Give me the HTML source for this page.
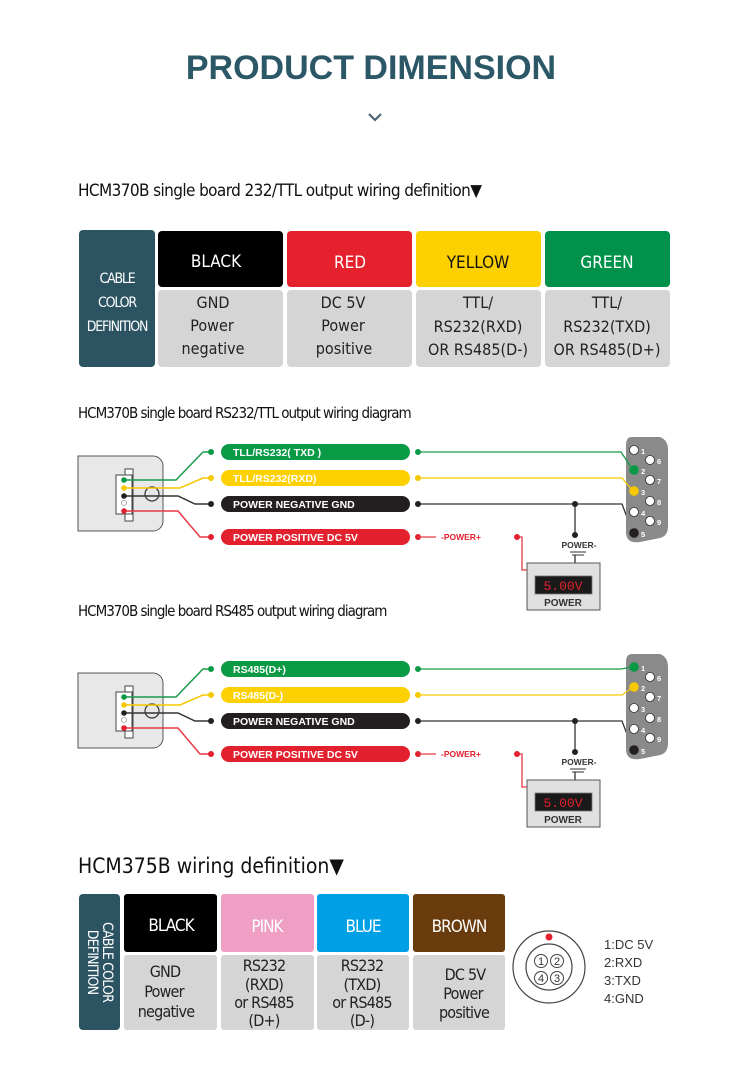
<!DOCTYPE html>
<html><head><meta charset="utf-8"><style>
html,body{margin:0;padding:0;background:#fff;}
svg{display:block}
.cd{font-family:"DejaVu Sans Condensed","DejaVu Sans","Liberation Sans",sans-serif;}
.lb{font-family:"Liberation Sans",sans-serif;font-weight:bold;}
</style></head><body>
<svg width="750" height="1071" viewBox="0 0 750 1071" xmlns="http://www.w3.org/2000/svg">
<defs>
<g id="diag">
  <path d="M78 456 H153 a10 10 0 0 1 10 10 V521 a10 10 0 0 1 -10 10 H78 Z" fill="#e8e8e8" stroke="#555" stroke-width="1"/>
  <rect x="125" y="469" width="8" height="52" fill="#fff" stroke="#444" stroke-width="1"/>
  <rect x="116" y="475" width="16" height="39" fill="#fff" stroke="#444" stroke-width="1"/>
  <circle cx="152" cy="494" r="7" fill="none" stroke="#333" stroke-width="1.2"/>
  <polyline points="124,480 176,480 203,452 211,452" fill="none" stroke="#1a9a4a" stroke-width="1.5"/>
  <polyline points="124,488 180,488 203,478 211,478" fill="none" stroke="#f5c800" stroke-width="1.5"/>
  <polyline points="124,496 178,496 195,504 211,504" fill="none" stroke="#333" stroke-width="1.5"/>
  <polyline points="124,511 178,511 200,537 211,537" fill="none" stroke="#e53a45" stroke-width="1.5"/>
  <circle cx="124" cy="480" r="2.8" fill="#0a9a46"/>
  <circle cx="124" cy="488" r="2.8" fill="#f5c800"/>
  <circle cx="124" cy="496" r="2.8" fill="#222"/>
  <circle cx="124" cy="503" r="2.5" fill="#fff" stroke="#999" stroke-width="0.8"/>
  <circle cx="124" cy="511" r="2.8" fill="#e3202e"/>
  <circle cx="211" cy="452" r="3" fill="#0a9a46"/>
  <circle cx="211" cy="478" r="3" fill="#f5c800"/>
  <circle cx="211" cy="504" r="3" fill="#222"/>
  <circle cx="211" cy="537" r="3" fill="#e3202e"/>
  <rect x="221" y="444" width="189" height="16" rx="8" fill="#0a9a46"/>
  <rect x="221" y="470" width="189" height="16" rx="8" fill="#fdd000"/>
  <rect x="221" y="496" width="189" height="16" rx="8" fill="#231f20"/>
  <rect x="221" y="529" width="189" height="16" rx="8" fill="#e3202e"/>
  <polyline points="418,504 622,504 633,533" fill="none" stroke="#333" stroke-width="1.3"/>
  <line x1="575" y1="504" x2="575" y2="535" stroke="#333" stroke-width="1.3"/>
  <circle cx="418" cy="504" r="3" fill="#222"/>
  <circle cx="575" cy="504" r="3" fill="#222"/>
  <circle cx="575" cy="535" r="3" fill="#222"/>
  <circle cx="418" cy="537" r="3" fill="#e3202e"/>
  <line x1="418" y1="537" x2="436" y2="537" stroke="#e53a45" stroke-width="1.3"/>
  <text x="441" y="540" class="lb" font-size="8.5" fill="#e3202e">-POWER+</text>
  <polyline points="517,537 522,537 522,570 533,570" fill="none" stroke="#e53a45" stroke-width="1.3"/>
  <circle cx="517" cy="537" r="3" fill="#e3202e"/>
  <circle cx="533" cy="570" r="3" fill="#e3202e"/>
  <text x="579" y="548" class="lb" font-size="8.5" fill="#333" text-anchor="middle">POWER-</text>
  <line x1="570" y1="552" x2="586" y2="552" stroke="#333" stroke-width="1"/>
  <line x1="572" y1="555" x2="584" y2="555" stroke="#333" stroke-width="1"/>
  <line x1="575" y1="555" x2="575" y2="570" stroke="#333" stroke-width="1.3"/>
  <circle cx="575" cy="570" r="3" fill="#222"/>
  <rect x="527" y="563" width="73" height="47" fill="#e0e0e0" stroke="#555" stroke-width="1"/>
  <rect x="535" y="576" width="57" height="18" fill="#1a1a1a" stroke="#777" stroke-width="0.8"/>
  <text x="563" y="590" font-family="Liberation Mono,monospace" font-size="13" fill="#e3202e" text-anchor="middle">5.00V</text>
  <text x="563" y="606" class="lb" font-size="10" fill="#333" text-anchor="middle">POWER</text>
  <path d="M632 437 H660 Q668 440 668 450 V526 Q668 536 660 538 L640 542 Q626 544 626 532 V445 Q626 437 632 437 Z" fill="#8a8a8a"/>
  <g fill="#fff" stroke="#333" stroke-width="0.8">
    <circle cx="650" cy="460" r="4.5"/><circle cx="650" cy="480" r="4.5"/><circle cx="650" cy="501" r="4.5"/><circle cx="650" cy="521" r="4.5"/>
    <circle cx="634" cy="512" r="4.5"/>
  </g>
  <circle cx="634" cy="533" r="4.8" fill="#231f20"/>
  <g class="lb" font-size="7.5" fill="#fff">
    <text x="641" y="516">4</text><text x="641" y="537">5</text>
    <text x="657" y="464">6</text><text x="657" y="484">7</text><text x="657" y="505">8</text><text x="657" y="525">9</text>
  </g>
</g>
</defs>

<text x="371" y="79" text-anchor="middle" class="lb" font-size="34" fill="#2b5766">PRODUCT DIMENSION</text>
<polyline points="369,114 375,120 381,114" fill="none" stroke="#4a6672" stroke-width="2.2"/>

<text x="78" y="196" class="cd" font-size="17" fill="#111" letter-spacing="-0.6">HCM370B single board 232/TTL output wiring definition▼</text>

<rect x="79" y="230" width="76" height="137" rx="4" fill="#2b5362"/>
<g class="cd" font-size="14" fill="#fff" text-anchor="middle" letter-spacing="-1.2">
<text x="117" y="283">CABLE</text><text x="117" y="307">COLOR</text><text x="117" y="331">DEFINITION</text></g>
<rect x="158" y="231" width="125" height="56" rx="4" fill="#000"/>
<rect x="287" y="231" width="125" height="56" rx="4" fill="#e4212c"/>
<rect x="416" y="231" width="125" height="56" rx="4" fill="#fdd000"/>
<rect x="545" y="231" width="125" height="56" rx="4" fill="#00924a"/>
<g fill="#d5d5d5"><rect x="158" y="290" width="125" height="77" rx="4"/><rect x="287" y="290" width="125" height="77" rx="4"/><rect x="416" y="290" width="125" height="77" rx="4"/><rect x="545" y="290" width="125" height="77" rx="4"/></g>
<g class="cd" font-size="17" text-anchor="middle">
<text x="216" y="267" fill="#fff">BLACK</text><text x="350" y="268" fill="#fff">RED</text><text x="478" y="268" fill="#111">YELLOW</text><text x="607" y="268" fill="#fff">GREEN</text>
</g>
<g class="cd" font-size="16" text-anchor="middle" fill="#222">
<text x="213" y="308">GND</text><text x="212" y="331">Power</text><text x="213" y="354">negative</text>
<text x="343" y="308">DC 5V</text><text x="343" y="331">Power</text><text x="344" y="354">positive</text>
<text x="478" y="308">TTL/</text><text x="478" y="332">RS232(RXD)</text><text x="478" y="355">OR RS485(D-)</text>
<text x="607" y="308">TTL/</text><text x="607" y="332">RS232(TXD)</text><text x="607" y="355">OR RS485(D+)</text>
</g>

<text x="78" y="418" class="cd" font-size="15" fill="#111" letter-spacing="-1">HCM370B single board RS232/TTL output wiring diagram</text>
<use href="#diag"/>
<polyline points="418,452 621,452 633,470" fill="none" stroke="#1a9a4a" stroke-width="1.3"/>
<polyline points="418,478 622,478 633,491" fill="none" stroke="#f5c800" stroke-width="1.3"/>
<circle cx="418" cy="452" r="3" fill="#0a9a46"/>
<circle cx="418" cy="478" r="3" fill="#f5c800"/>
<circle cx="634" cy="450" r="4.5" fill="#fff" stroke="#333" stroke-width="0.8"/>
<circle cx="634" cy="470" r="4.8" fill="#0a9a46"/>
<circle cx="634" cy="491" r="4.8" fill="#f5c800"/>
<g class="lb" font-size="7.5" fill="#fff"><text x="641" y="454">1</text><text x="641" y="474">2</text><text x="641" y="495">3</text></g>
<g class="lb" font-size="10.5" fill="#fff">
<text x="233" y="456">TLL/RS232( TXD )</text><text x="233" y="482">TLL/RS232(RXD)</text><text x="233" y="508">POWER NEGATIVE GND</text><text x="233" y="541">POWER POSITIVE DC 5V</text>
</g>

<text x="78" y="616" class="cd" font-size="15" fill="#111" letter-spacing="-1">HCM370B single board RS485 output wiring diagram</text>
<use href="#diag" transform="translate(0,217)"/>
<polyline points="418,669 621,669 633,667" fill="none" stroke="#1a9a4a" stroke-width="1.3"/>
<polyline points="418,695 622,695 633,687" fill="none" stroke="#f5c800" stroke-width="1.3"/>
<circle cx="418" cy="669" r="3" fill="#0a9a46"/>
<circle cx="418" cy="695" r="3" fill="#f5c800"/>
<circle cx="634" cy="667" r="4.8" fill="#0a9a46"/>
<circle cx="634" cy="687" r="4.8" fill="#f5c800"/>
<circle cx="634" cy="708" r="4.5" fill="#fff" stroke="#333" stroke-width="0.8"/>
<g class="lb" font-size="7.5" fill="#fff"><text x="641" y="671">1</text><text x="641" y="691">2</text><text x="641" y="712">3</text></g>
<g class="lb" font-size="10.5" fill="#fff">
<text x="233" y="673">RS485(D+)</text><text x="233" y="699">RS485(D-)</text><text x="233" y="725">POWER NEGATIVE GND</text><text x="233" y="758">POWER POSITIVE DC 5V</text>
</g>

<text x="78" y="873" class="cd" font-size="21" fill="#111">HCM375B wiring definition▼</text>

<rect x="79" y="894" width="41" height="136" rx="4" fill="#2b5362"/>
<g class="cd" font-size="14" fill="#fff" text-anchor="middle" letter-spacing="-0.8">
<text transform="translate(103,962) rotate(90)" x="0" y="0">CABLE COLOR</text>
<text transform="translate(88,962) rotate(90)" x="0" y="0">DEFINITION</text></g>
<rect x="124" y="894" width="93" height="58" rx="3" fill="#000"/>
<rect x="221" y="894" width="93" height="58" rx="3" fill="#f09fc4"/>
<rect x="317" y="894" width="92" height="58" rx="3" fill="#00a0e6"/>
<rect x="413" y="894" width="92" height="58" rx="3" fill="#6a3b0c"/>
<g fill="#d5d5d5"><rect x="124" y="955" width="93" height="75" rx="3"/><rect x="221" y="955" width="93" height="75" rx="3"/><rect x="317" y="955" width="92" height="75" rx="3"/><rect x="413" y="955" width="92" height="75" rx="3"/></g>
<g class="cd" font-size="17" text-anchor="middle" fill="#fff" letter-spacing="-1">
<text x="171" y="931">BLACK</text><text x="267" y="932">PINK</text><text x="363" y="932">BLUE</text><text x="459" y="932">BROWN</text>
</g>
<g class="cd" font-size="16" text-anchor="middle" fill="#222" letter-spacing="-0.8">
<text x="165" y="977">GND</text><text x="164" y="997">Power</text><text x="166" y="1017">negative</text>
<text x="264" y="971">RS232</text><text x="264" y="990">(RXD)</text><text x="264" y="1008">or RS485</text><text x="264" y="1026">(D+)</text>
<text x="362" y="971">RS232</text><text x="362" y="990">(TXD)</text><text x="362" y="1008">or RS485</text><text x="362" y="1026">(D-)</text>
<text x="465" y="980">DC 5V</text><text x="463" y="999">Power</text><text x="464" y="1018">positive</text>
</g>
<circle cx="549" cy="967" r="36" fill="none" stroke="#444" stroke-width="1.2"/>
<circle cx="549" cy="967" r="23" fill="none" stroke="#444" stroke-width="1.2"/>
<circle cx="549" cy="937" r="3.5" fill="#e3202e"/>
<g fill="none" stroke="#444" stroke-width="1"><circle cx="541" cy="961" r="6.5"/><circle cx="557" cy="961" r="6.5"/><circle cx="541" cy="978" r="6.5"/><circle cx="557" cy="978" r="6.5"/></g>
<g font-family="Liberation Sans,sans-serif" font-size="11" fill="#333" text-anchor="middle">
<text x="541" y="965">1</text><text x="557" y="965">2</text><text x="541" y="982">4</text><text x="557" y="982">3</text></g>
<g font-family="Liberation Sans,sans-serif" font-size="13" fill="#333">
<text x="604" y="949">1:DC 5V</text><text x="604" y="967">2:RXD</text><text x="604" y="985">3:TXD</text><text x="604" y="1003">4:GND</text></g>
</svg>
</body></html>
